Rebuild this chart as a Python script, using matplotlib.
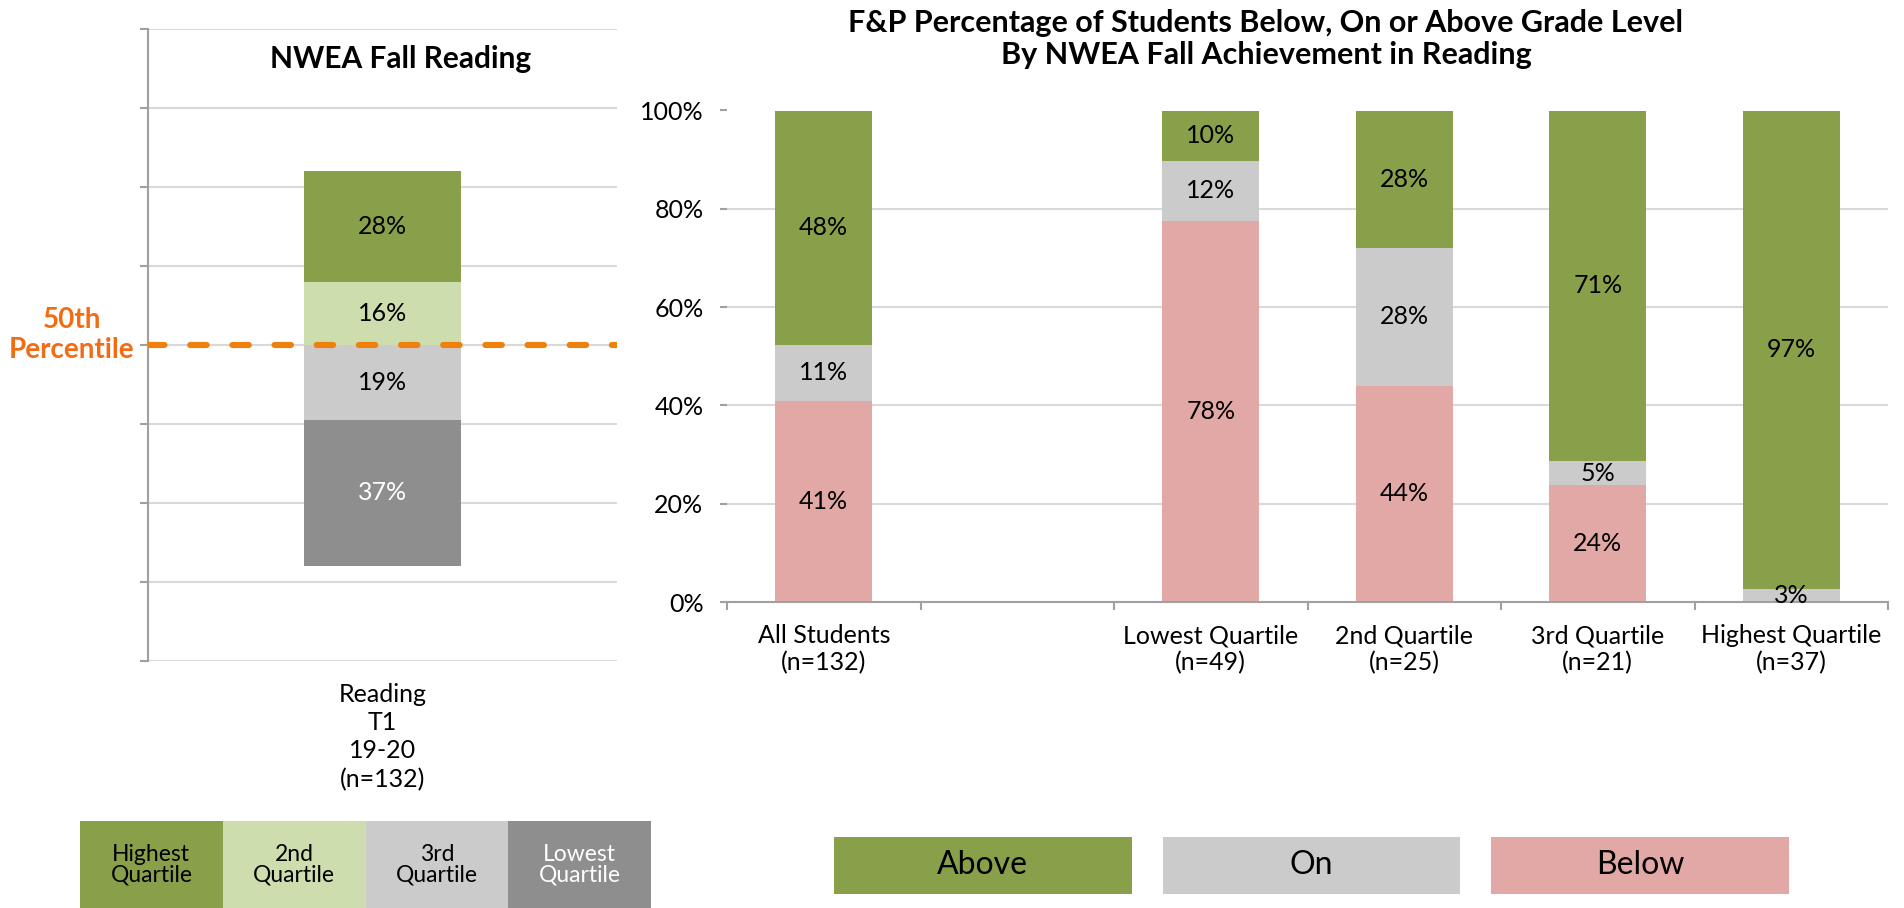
import numpy as np
import matplotlib
matplotlib.use("Agg")
import matplotlib.pyplot as plt

plt.rcParams['font.family'] = ['Lato', 'DejaVu Sans']

# --- data: left chart (NWEA fall reading quartiles, % of students) ---
nwea_cats = ["Lowest Quartile", "3rd Quartile", "2nd Quartile", "Highest Quartile"]
nwea_vals = [37.1, 18.9, 15.9, 28.0]
nwea_xlabel = "Reading\nT1\n19-20\n(n=132)"
nwea_legend = ["Highest\nQuartile", "2nd\nQuartile", "3rd\nQuartile", "Lowest\nQuartile"]

# --- data: right chart (F&P level by NWEA quartile) ---
fp_cats = ["All Students\n(n=132)", "", "Lowest Quartile\n(n=49)", "2nd Quartile\n(n=25)",
           "3rd Quartile\n(n=21)", "Highest Quartile\n(n=37)"]
fp_below = [40.9, 0, 77.6, 44.0, 23.8, 0.0]
fp_on = [11.4, 0, 12.2, 28.0, 4.8, 2.7]
fp_above = [47.7, 0, 10.2, 28.0, 71.4, 97.3]
fp_legend = ["Above", "On", "Below"]

# colours
c_nwea = {"Highest Quartile": "#89A04B", "2nd Quartile": "#CDDDAD",
          "3rd Quartile": "#CBCBCB", "Lowest Quartile": "#8E8E8E"}
c_above, c_on, c_below = "#89A04B", "#CBCBCB", "#E2A8A6"
orange_line = "#EF800B"
orange_txt = "#F26C14"
grid_c = "#D9D9D9"
axis_c = "#A0A0A0"

W, H = 1904, 908
fig = plt.figure(figsize=(W / 100, H / 100), dpi=100)


def px_axes(x0, y0, x1, y1):
    # axes from pixel box (top-left origin)
    return fig.add_axes([x0 / W, 1 - y1 / H, (x1 - x0) / W, (y1 - y0) / H])


# ================= left chart =================
ax1 = px_axes(148, 28.7, 617, 661)
ax1.set_xlim(-0.5, 0.5)
ax1.set_ylim(0, 160)
p50 = 80  # 50th percentile position on the axis
base = p50 - (nwea_vals[0] + nwea_vals[1])
bottom = base
for cat, v in zip(nwea_cats, nwea_vals):
    ax1.bar(0, v, width=0.333, bottom=bottom, color=c_nwea[cat], zorder=2)
    tc = "white" if cat == "Lowest Quartile" else "black"
    ax1.text(0, bottom + v / 2, f"{v:.0f}%", ha="center", va="center",
             fontsize=18, color=tc, zorder=4)
    bottom += v

ax1.axhline(p50, color=orange_line, lw=4.4, dashes=(2.7, 4.2),
            dash_capstyle="round", zorder=3)
ax1.set_yticks(np.arange(0, 161, 20))
ax1.set_yticklabels([])
ax1.grid(axis="y", color=grid_c, lw=1.5)
ax1.set_axisbelow(True)
for s in ["top", "right", "bottom"]:
    ax1.spines[s].set_visible(False)
ax1.spines["left"].set_color(axis_c)
ax1.spines["left"].set_linewidth(1.5)
ax1.tick_params(axis="y", length=6, width=1.5, color=axis_c)
ax1.set_xticks([0])
ax1.set_xticklabels([nwea_xlabel], fontsize=18, linespacing=1.27)
ax1.tick_params(axis="x", length=0, pad=16)

fig.text(401 / W, 1 - 59 / H, "NWEA Fall Reading", ha="center", va="center",
         fontsize=21.5, fontweight="bold")
fig.text(72 / W, 1 - 335 / H, "50th\nPercentile", ha="center", va="center",
         fontsize=20, fontweight="bold", color=orange_txt, linespacing=1.15)

# left legend
axl = px_axes(80, 821, 651, 908)
axl.set_xlim(0, 4)
axl.set_ylim(0, 1)
axl.axis("off")
for i, lab in enumerate(nwea_legend):
    key = lab.replace("\n", " ")
    axl.bar(i + 0.5, 1, width=1, bottom=0, color=c_nwea[key])
    tc = "white" if key == "Lowest Quartile" else "black"
    axl.text(i + 0.5, 0.5, lab, ha="center", va="center", fontsize=16.5,
             color=tc, linespacing=0.95)

# ================= right chart =================
ax2 = px_axes(727, 110.5, 1888, 602)
x = np.arange(len(fp_cats))
bw = 0.5
ax2.bar(x, fp_below, bw, color=c_below, zorder=2)
ax2.bar(x, fp_on, bw, bottom=fp_below, color=c_on, zorder=2)
bot3 = np.array(fp_below) + np.array(fp_on)
ax2.bar(x, fp_above, bw, bottom=bot3, color=c_above, zorder=2)

for i in range(len(fp_cats)):
    segs = [(0, fp_below[i]), (fp_below[i], fp_on[i]), (bot3[i], fp_above[i])]
    for b, v in segs:
        if v > 0:
            ax2.text(x[i], b + v / 2, f"{v:.0f}%", ha="center", va="center",
                     fontsize=18, color="black", zorder=4)

ax2.set_xlim(-0.5, len(fp_cats) - 0.5)
ax2.set_ylim(0, 100)
ax2.set_yticks(np.arange(0, 101, 20))
ax2.set_yticklabels([f"{v}%" for v in range(0, 101, 20)], fontsize=18)
ax2.grid(axis="y", color=grid_c, lw=1.5)
ax2.set_axisbelow(True)
ax2.set_xticks(x)
ax2.set_xticklabels(fp_cats, fontsize=18, linespacing=1.2)
ax2.set_xticks(np.arange(-0.5, len(fp_cats), 1), minor=True)
ax2.tick_params(axis="x", which="major", length=0, pad=16)
ax2.tick_params(axis="x", which="minor", length=6, width=1.5, color=axis_c)
ax2.tick_params(axis="y", length=5, width=1.5, color=axis_c, pad=12)
for s in ["top", "right", "left"]:
    ax2.spines[s].set_visible(False)
ax2.spines["bottom"].set_color(axis_c)
ax2.spines["bottom"].set_linewidth(1.5)
ax2.spines["bottom"].set_zorder(3)

fig.text(1266 / W, 1 - 39 / H,
         "F&P Percentage of Students Below, On or Above Grade Level\n"
         "By NWEA Fall Achievement in Reading",
         ha="center", va="center", fontsize=22, fontweight="bold", linespacing=1.15)

# right legend
axr = px_axes(834, 837, 1789, 894)
gap = 31 / 299
axr.set_xlim(0, 3 + 2 * gap)
axr.set_ylim(0, 1)
axr.axis("off")
for i, (lab, c) in enumerate(zip(fp_legend, [c_above, c_on, c_below])):
    xc = i * (1 + gap) + 0.5
    axr.bar(xc, 1, width=1, color=c)
    axr.text(xc, 0.5, lab, ha="center", va="center", fontsize=23)

fig.savefig("out.png", dpi=100)
